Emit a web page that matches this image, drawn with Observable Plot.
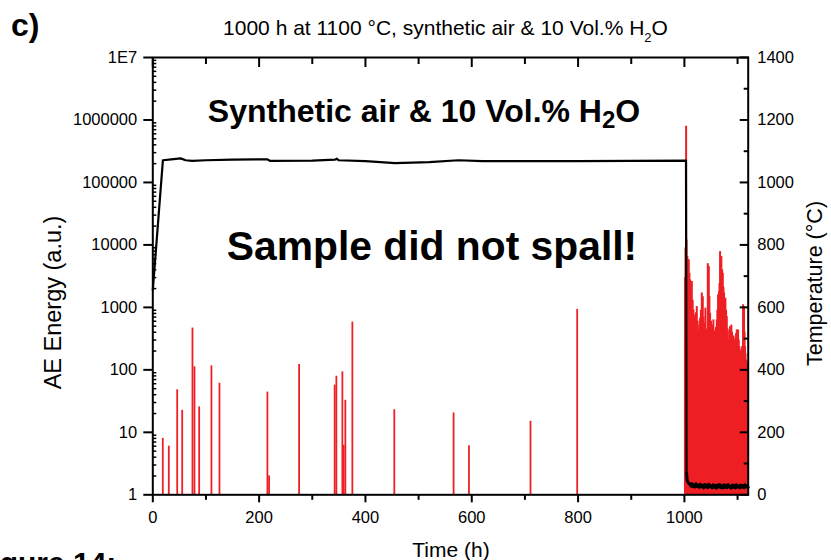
<!DOCTYPE html>
<html><head><meta charset="utf-8">
<script src="https://cdn.jsdelivr.net/npm/d3@7"></script>
<script src="https://cdn.jsdelivr.net/npm/@observablehq/plot@0.6"></script>
<style>
body{margin:0;background:#fff;}
#chart{width:831px;height:560px;overflow:hidden;position:relative;background:#fff;}
</style></head><body><div id="chart"></div>
<script>
// ---- data ----
// isolated AE events (time in h, energy in a.u.)
const aeTime  = [18.8, 30.1, 45.9, 55.3, 74.6, 78.4, 87.2, 110.3, 125.4, 215.6, 218.8, 275.2, 342.1, 345.3, 356.6, 359, 362.2, 375.4, 454.3, 565.8, 594.7, 710.5, 798.3];
const aeValue = [8, 6, 48, 22.5, 466, 112, 25.5, 116, 61, 44, 2, 122, 57, 79, 93, 6.2, 32.6, 582, 23, 20.4, 6.1, 15, 930];
// dense AE activity during/after cooling
const denseTime  = [1001, 1002, 1003.2, 1004, 1005.6, 1007, 1008.2, 1009.5, 1010.7, 1012.3, 1013.9, 1015.5, 1017, 1018.5, 1020.1, 1021.7, 1023.3, 1024.8, 1026.3, 1028, 1029.5, 1031, 1032.7, 1034.6, 1036, 1037, 1038.3, 1039.5, 1040.8, 1042.1, 1044, 1045.9, 1047, 1048.3, 1050, 1051.5, 1053, 1054.5, 1056, 1057.7, 1059.3, 1060.9, 1062, 1063.3, 1065.2, 1066, 1067.1, 1068.3, 1069.5, 1071, 1072.2, 1073.4, 1074.6, 1076, 1077.1, 1078.4, 1079.7, 1081.2, 1082.7, 1084.3, 1085.9, 1087, 1088.3, 1089.6, 1091, 1092.2, 1093.4, 1094.6, 1095.9, 1097.2, 1098.5, 1099.8, 1101, 1102.2, 1103.4, 1104.7, 1106, 1107.2, 1108.5, 1110.3, 1111.2, 1112.2, 1113.2, 1114.1, 1115, 1116, 1117.2, 1118.5, 1119.5];
const denseValue = [3000, 9000, 790000, 12000, 6500, 4200, 5800, 3500, 2750, 2200, 2600, 1300, 910, 750, 630, 820, 1030, 600, 435, 520, 670, 900, 1700, 1480, 700, 385, 560, 970, 450, 300, 5000, 4500, 1500, 800, 600, 460, 520, 630, 420, 300, 480, 630, 900, 1590, 1790, 2400, 7800, 5200, 6500, 4000, 3500, 2100, 1700, 1200, 1400, 900, 710, 450, 300, 420, 490, 380, 520, 400, 300, 350, 300, 280, 320, 380, 435, 330, 435, 300, 235, 200, 183, 210, 235, 1100, 700, 1030, 400, 235, 180, 143, 130, 112, 120];
// furnace temperature (°C)
const tempTime  = [0, 19, 35, 52, 62, 74, 100, 150, 215, 221, 300, 343, 346, 350, 400, 456, 520, 575, 620, 700, 800, 900, 1003, 1004, 1005, 1006, 1008, 1010, 1012, 1014, 1016, 1018, 1020, 1022, 1024, 1026, 1028, 1030, 1032, 1034, 1036, 1038, 1040, 1042, 1044, 1046, 1048, 1050, 1052, 1054, 1056, 1058, 1060, 1062, 1064, 1066, 1068, 1070, 1072, 1074, 1076, 1078, 1080, 1082, 1084, 1086, 1088, 1090, 1092, 1094, 1096, 1098, 1100, 1102, 1104, 1106, 1108, 1110, 1112, 1114, 1116, 1118, 1120];
const tempValue = [655, 1071, 1074, 1077, 1071, 1069, 1071, 1073, 1074, 1069, 1070, 1073, 1076, 1071, 1068, 1062, 1065, 1071, 1068, 1068, 1068, 1069, 1070, 70, 48, 42, 38, 34, 28, 36, 26, 33, 25, 35, 27, 31, 24, 34, 26, 30, 22, 33, 25, 31, 23, 34, 26, 29, 22, 32, 24, 30, 21, 31, 25, 33, 23, 29, 22, 32, 24, 30, 23, 33, 25, 28, 21, 31, 24, 30, 22, 32, 25, 29, 22, 31, 24, 30, 23, 32, 25, 29, 24];
// ticks
const timeTicks = [0, 200, 400, 600, 800, 1000];
const timeMinor = [100, 300, 500, 700, 900, 1100];
const energyTicks = [1, 10, 100, 1000, 10000, 100000, 1000000, 10000000];
const energyTickLabels = ["1", "10", "100", "1000", "10000", "100000", "1000000", "1E7"];
const energyMinorFactors = [2, 3, 4, 5, 6, 7, 8, 9];
const tempTicks = [0, 200, 400, 600, 800, 1000, 1200, 1400];
const tempMinor = [100, 300, 500, 700, 900, 1100, 1300];

// ---- chart ----
const RED = "#ee2025";
const FONT = "'Liberation Sans', Arial, Helvetica, sans-serif";
// right (temperature) axis shares the log scale: 200 °C per decade
const T2E = t => Math.pow(10, t / 200);
const E2T = e => Math.round(200 * Math.log10(e));

const energyMinor = energyTicks.slice(0, -1).flatMap(d => energyMinorFactors.map(k => k * d));
const ae = aeTime.map((t, i) => ({t, v: aeValue[i]}));
const dense = denseTime.map((t, i) => ({t, v: denseValue[i]}));
const temp = tempTime.map((t, i) => ({t, e: T2E(tempValue[i])}));
const tempHot = temp.filter(d => d.t <= 1004);
const tempCold = temp.filter(d => d.t >= 1004);

const plot = Plot.plot({
  width: 831, height: 560,
  marginLeft: 152.3, marginRight: 83.3, marginTop: 57, marginBottom: 65.7,
  style: {fontFamily: FONT, fontSize: "16.5px", color: "#000", background: "#fff"},
  x: {domain: [0, 1120]},
  y: {type: "log", domain: [1, 1e7]},
  marks: [
    Plot.ruleX(ae, {x: "t", y1: 1, y2: "v", stroke: RED, strokeWidth: 1.8}),
    Plot.ruleX(dense, {x: "t", y1: 1, y2: "v", stroke: RED, strokeWidth: 2}),
    Plot.line(tempHot, {x: "t", y: "e", stroke: "#000", strokeWidth: 2.2, strokeLinejoin: "round"}),
    Plot.line(tempCold, {x: "t", y: "e", stroke: "#000", strokeWidth: 3, strokeLinejoin: "round"}),
    Plot.frame({stroke: "#000", strokeWidth: 2}),
    Plot.axisX({anchor: "bottom", ticks: timeTicks, tickSize: 8, tickPadding: 8.7, strokeWidth: 2, label: null, tickFormat: d => String(d), fontSize: 16.5}),
    Plot.axisX({anchor: "bottom", ticks: timeMinor, tickSize: 5.5, text: null, strokeWidth: 2, label: null}),
    Plot.axisX({anchor: "top", ticks: timeTicks, tickSize: -9, text: null, strokeWidth: 2, label: null}),
    Plot.axisX({anchor: "top", ticks: timeMinor, tickSize: -6, text: null, strokeWidth: 2, label: null}),
    Plot.axisY({anchor: "left", ticks: energyTicks, tickSize: 9, tickPadding: 6.6, strokeWidth: 2, label: null,
      tickFormat: d => energyTickLabels[energyTicks.indexOf(d)], fontSize: 16.5}),
    Plot.axisY({anchor: "left", ticks: energyMinor, tickSize: -4, text: null, strokeWidth: 1.5, label: null}),
    Plot.axisY({anchor: "right", ticks: tempTicks.map(T2E), tickSize: 0, tickPadding: 9, label: null,
      tickFormat: e => String(E2T(e)), fontSize: 16.5}),
    Plot.axisY({anchor: "right", ticks: tempTicks.map(T2E), tickSize: -9, text: null, strokeWidth: 2, label: null}),
    Plot.axisY({anchor: "right", ticks: tempMinor.map(T2E), tickSize: -5, text: null, strokeWidth: 2, label: null})
  ]
});
document.getElementById("chart").appendChild(plot);

// ---- annotation text ----
const svg = d3.select(plot);
const g = svg.append("g").attr("font-family", FONT).attr("fill", "#000");
function addText(x, y, size, weight, anchor, parts, rotate) {
  const t = g.append("text")
    .attr("font-size", size).attr("font-weight", weight).attr("text-anchor", anchor);
  if (rotate) t.attr("transform", `translate(${x},${y}) rotate(-90)`);
  else t.attr("x", x).attr("y", y);
  parts.forEach(p => {
    const s = t.append("tspan").text(p.s);
    if (p.size) s.attr("font-size", p.size);
    if (p.dy) s.attr("dy", p.dy);
  });
  return t;
}
addText(11, 36, 32, "bold", "start", [{s: "c)"}]);
addText(445.5, 34.5, 21, "normal", "middle",
  [{s: "1000 h at 1100 °C, synthetic air & 10 Vol.% H"}, {s: "2", size: 13, dy: 7}, {s: "O", dy: -7}]);
addText(424, 121.7, 32, "bold", "middle",
  [{s: "Synthetic air & 10 Vol.% H"}, {s: "2", size: 24, dy: 6.5}, {s: "O", dy: -6.5}]);
addText(432, 260, 40.8, "bold", "middle", [{s: "Sample did not spall!"}]);
addText(60.7, 302.5, 23.5, "normal", "middle", [{s: "AE Energy (a.u.)"}], true);
addText(822, 283.5, 21.5, "normal", "middle", [{s: "Temperature (°C)"}], true);
addText(451, 556.7, 21, "normal", "middle", [{s: "Time (h)"}]);
addText(-27, 573, 30, "bold", "start", [{s: "Figure 14:"}]);
</script></body></html>
